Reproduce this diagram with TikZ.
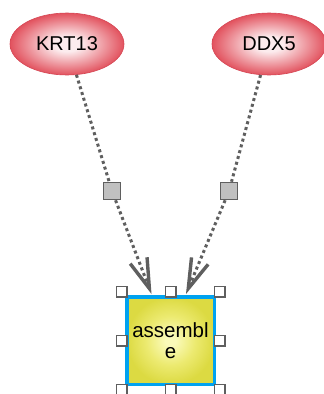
\documentclass[tikz,border=0pt]{standalone}
\usepackage{fontspec}
\setmainfont{Liberation Sans}
\usetikzlibrary{arrows.meta,shapes.geometric}

\definecolor{geneInner}{RGB}{252,236,238}
\definecolor{geneOuter}{RGB}{226,82,94}
\definecolor{geneEdge}{RGB}{214,70,84}
\definecolor{procInner}{RGB}{250,250,185}
\definecolor{procMid}{RGB}{236,234,112}
\definecolor{procOuter}{RGB}{220,218,66}
\definecolor{selBlue}{RGB}{0,162,240}
\definecolor{linkGray}{RGB}{95,95,95}
\definecolor{portFill}{RGB}{192,192,192}

\pgfdeclareradialshading{geneshade}{\pgfpoint{0bp}{0bp}}{%
  color(0bp)=(geneInner); color(6bp)=(geneInner);
  color(25bp)=(geneOuter); color(50bp)=(geneOuter)}
\pgfdeclareradialshading{procshade}{\pgfpoint{0bp}{0bp}}{%
  color(0bp)=(procInner); color(3bp)=(procInner);
  color(14bp)=(procMid); color(25bp)=(procOuter); color(50bp)=(procOuter)}

\tikzset{
  gene/.style={ellipse, draw=geneEdge, line width=0.6pt, shading=geneshade,
    minimum width=114pt, minimum height=62pt, inner sep=0pt,
    font=\fontsize{20}{22}\selectfont},
  process/.style={rectangle, draw=selBlue, line width=3.5pt, shading=procshade,
    minimum width=87.5pt, minimum height=87.5pt, inner sep=0pt, align=center,
    font=\fontsize{20.5}{21}\selectfont},
  port/.style={rectangle, draw=linkGray, line width=1.5pt, fill=portFill,
    minimum size=17pt, inner sep=0pt},
  handle/.style={rectangle, draw=linkGray, line width=1.5pt, fill=white,
    minimum size=10.5pt, inner sep=0pt},
  link/.style={draw=linkGray, line width=3pt, dash pattern=on 3pt off 3pt},
  consume/.style={link, -{Straight Barb[length=30pt, width=18pt, line width=3.4pt]}},
}

\begin{document}
\begin{tikzpicture}[x=1pt,y=-1pt]
  \useasboundingbox[fill=white] (0,0) rectangle (324,394);

  % species and process
  \node[gene] (krt) at (67,44) {KRT13};
  \node[gene] (ddx) at (269,44) {DDX5};
  \node[process] (asm) at (170.5,340.5) {assembl\\e};

  % edge midpoints
  \node[port] (pk) at (112,191) {};
  \node[port] (pd) at (229,191) {};

  % tips of the arrows on the process border
  \coordinate (tk) at ([xshift=-19pt,yshift=1pt]asm.north);
  \coordinate (td) at ([xshift=15.5pt,yshift=1pt]asm.north);

  \draw[link] (krt) -- (pk);
  \draw[link] (ddx) -- (pd);
  \draw[consume] (pk) -- (tk);
  \draw[consume] (pd) -- (td);

  % selection handles
  \node[handle] (h1) at ([xshift=-3.5pt,yshift=3.5pt]asm.north west) {};
  \node[handle] (h2) at ([yshift=3.5pt]asm.north) {};
  \node[handle] (h3) at ([xshift=3.5pt,yshift=3.5pt]asm.north east) {};
  \node[handle] (h4) at ([xshift=-3.5pt]asm.west) {};
  \node[handle] (h5) at ([xshift=3.5pt]asm.east) {};
  \node[handle] (h6) at ([xshift=-3.5pt,yshift=-3.5pt]asm.south west) {};
  \node[handle] (h7) at ([yshift=-3.5pt]asm.south) {};
  \node[handle] (h8) at ([xshift=3.5pt,yshift=-3.5pt]asm.south east) {};
\end{tikzpicture}
\end{document}
